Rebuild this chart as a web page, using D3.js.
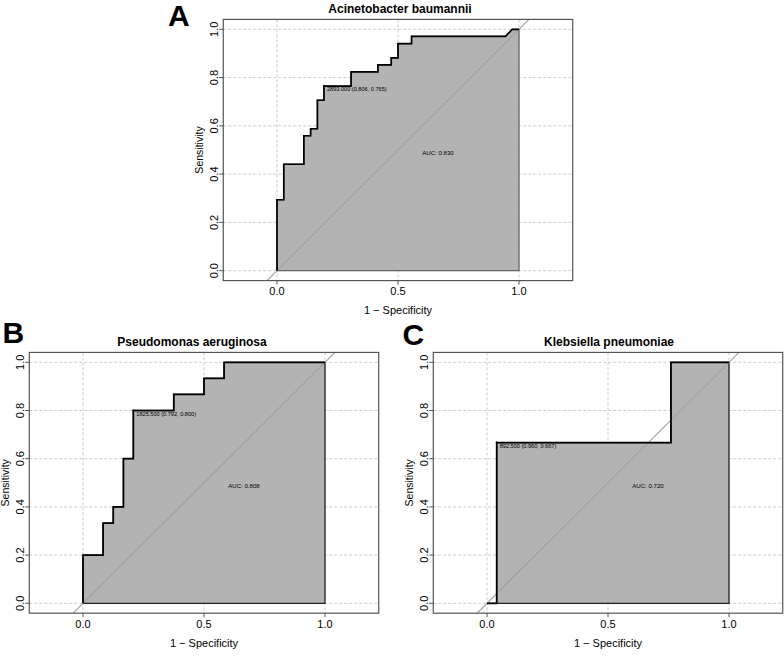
<!DOCTYPE html>
<html>
<head>
<meta charset="utf-8">
<script src="https://cdn.jsdelivr.net/npm/d3@7"></script>
<style>
  html, body { margin: 0; padding: 0; background: #fff; }
  svg { display: block; font-family: "Liberation Sans", Arial, Helvetica, sans-serif; }
</style>
</head>
<body>
<svg id="chart" width="784" height="662"></svg>
<script>
// ---- data ----
const panelLetters = ["A", "B", "C"];
const panelTitles = ["Acinetobacter baumannii", "Pseudomonas aeruginosa", "Klebsiella pneumoniae"];

// ROC vertices: 1 - specificity and sensitivity
const fprA = [0, 0, 0.028, 0.028, 0.111, 0.111, 0.139, 0.139, 0.167, 0.167, 0.194, 0.194, 0.306, 0.306, 0.417, 0.417, 0.472, 0.472, 0.5, 0.5, 0.556, 0.556, 0.944, 0.972, 1];
const tprA = [0, 0.294, 0.294, 0.441, 0.441, 0.559, 0.559, 0.588, 0.588, 0.706, 0.706, 0.765, 0.765, 0.824, 0.824, 0.853, 0.853, 0.882, 0.882, 0.941, 0.941, 0.971, 0.971, 1, 1];

const fprB = [0, 0, 0.083, 0.083, 0.125, 0.125, 0.167, 0.167, 0.208, 0.208, 0.375, 0.375, 0.5, 0.5, 0.583, 0.583, 1];
const tprB = [0, 0.2, 0.2, 0.333, 0.333, 0.4, 0.4, 0.6, 0.6, 0.8, 0.8, 0.867, 0.867, 0.933, 0.933, 1, 1];

const fprC = [0, 0.04, 0.04, 0.76, 0.76, 1];
const tprC = [0, 0, 0.667, 0.667, 1, 1];

// best thresholds: value, specificity, sensitivity
const thresholds = [2893.000, 1825.500, 892.500];
const threshSpec = [0.806, 0.792, 0.960];
const threshSens = [0.765, 0.800, 0.667];
const aucValues = [0.830, 0.808, 0.720];

const xTicks = [0, 0.5, 1];
const yTicks = [0, 0.2, 0.4, 0.6, 0.8, 1];

// ---- layout (pixels) ----
const layouts = [
  { x0: 277, xUnit: 242, y0: 270.7, y1: 29.3, letterX: 168, letterY: 26, titleX: 400 },
  { x0: 83,  xUnit: 242, y0: 603.3, y1: 362.3, letterX: 2.5,  letterY: 343, titleX: 192 },
  { x0: 487, xUnit: 242, y0: 603.3, y1: 362.3, letterX: 402.5, letterY: 345, titleX: 609 }
];
const fprs = [fprA, fprB, fprC];
const tprs = [tprA, tprB, tprC];
const borderCols = ["#666", "#222", "#222"];

const svg = d3.select("#chart");

layouts.forEach((L, i) => {
  const x = d3.scaleLinear().domain([0, 1]).range([L.x0, L.x0 + L.xUnit]);
  const y = d3.scaleLinear().domain([0, 1]).range([L.y0, L.y1]);
  const xMin = -0.222, xMax = 1.222, yMin = -0.041, yMax = 1.041;
  const bx0 = x(xMin), bx1 = x(xMax), by0 = y(yMax), by1 = y(yMin);

  const g = svg.append("g");
  const clipId = "clip" + i;
  g.append("clipPath").attr("id", clipId)
    .append("rect").attr("x", bx0).attr("y", by0).attr("width", bx1 - bx0).attr("height", by1 - by0);

  const plot = g.append("g").attr("clip-path", `url(#${clipId})`);

  // grid
  plot.selectAll(".gx").data(xTicks).enter().append("line")
    .attr("x1", d => x(d)).attr("x2", d => x(d)).attr("y1", by0).attr("y2", by1)
    .attr("stroke", "#cccccc").attr("stroke-width", 1).attr("stroke-dasharray", "3,2");
  plot.selectAll(".gy").data(yTicks).enter().append("line")
    .attr("y1", d => y(d)).attr("y2", d => y(d)).attr("x1", bx0).attr("x2", bx1)
    .attr("stroke", "#cccccc").attr("stroke-width", 1).attr("stroke-dasharray", "3,2");

  const pts = fprs[i].map((f, k) => [f, tprs[i][k]]);
  const poly = pts.concat([[1, 0]]);
  plot.append("path")
    .attr("d", d3.line().x(d => x(d[0])).y(d => y(d[1]))(poly) + "Z")
    .attr("fill", "#b3b3b3").attr("stroke", borderCols[i]).attr("stroke-width", 1.3);

  // identity line
  plot.append("line")
    .attr("x1", x(xMin)).attr("y1", y(xMin)).attr("x2", x(xMax)).attr("y2", y(xMax))
    .attr("stroke", "#a0a0a0").attr("stroke-width", 1.1);

  // ROC curve
  plot.append("path")
    .attr("d", d3.line().x(d => x(d[0])).y(d => y(d[1]))(pts))
    .attr("fill", "none").attr("stroke", "#000").attr("stroke-width", 1.7)
    .attr("stroke-linejoin", "miter");

  // box
  g.append("rect").attr("x", bx0).attr("y", by0).attr("width", bx1 - bx0).attr("height", by1 - by0)
    .attr("fill", "none").attr("stroke", "#555").attr("stroke-width", 1.2);

  // ticks
  g.selectAll(".tx").data(xTicks).enter().append("line")
    .attr("x1", d => x(d)).attr("x2", d => x(d)).attr("y1", by1).attr("y2", by1 + 4)
    .attr("stroke", "#555").attr("stroke-width", 1);
  g.selectAll(".ty").data(yTicks).enter().append("line")
    .attr("y1", d => y(d)).attr("y2", d => y(d)).attr("x1", bx0).attr("x2", bx0 - 4)
    .attr("stroke", "#555").attr("stroke-width", 1);

  g.selectAll(".txl").data(xTicks).enter().append("text")
    .attr("x", d => x(d)).attr("y", by1 + 11).attr("dy", "0.35em")
    .attr("text-anchor", "middle").attr("font-size", 11).attr("fill", "#000")
    .text(d => d3.format(".1f")(d));
  g.selectAll(".tyl").data(yTicks).enter().append("text")
    .attr("transform", d => `translate(${bx0 - 9},${y(d)}) rotate(-90)`)
    .attr("dy", "0.35em")
    .attr("text-anchor", "middle").attr("font-size", 11).attr("fill", "#000")
    .text(d => d3.format(".1f")(d));

  // axis titles
  g.append("text").attr("x", (bx0 + bx1) / 2).attr("y", by1 + 30).attr("dy", "0.35em")
    .attr("text-anchor", "middle").attr("font-size", 11).text("1 \u2212 Specificity");
  g.append("text")
    .attr("transform", `translate(${bx0 - 24},${(by0 + by1) / 2}) rotate(-90)`)
    .attr("dy", "0.35em").attr("text-anchor", "middle").attr("font-size", 10.5).text("Sensitivity");

  // title
  g.append("text").attr("x", L.titleX).attr("y", by0 - 6)
    .attr("text-anchor", "middle").attr("font-size", 12).attr("font-weight", "bold").text(panelTitles[i]);

  // panel letter
  g.append("text").attr("x", L.letterX).attr("y", L.letterY)
    .attr("font-size", 30).attr("font-weight", "bold").text(panelLetters[i]);

  // threshold point & label
  const tx = x(1 - threshSpec[i]), ty = y(threshSens[i]);
  g.append("circle").attr("cx", tx).attr("cy", ty).attr("r", 1).attr("fill", "#000");
  g.append("text").attr("x", tx + 3).attr("y", ty + 3.5).attr("dy", "0.35em")
    .attr("font-size", 5.6).attr("fill", "#000")
    .text(`${d3.format(".3f")(thresholds[i])} (${d3.format(".3f")(threshSpec[i])}, ${d3.format(".3f")(threshSens[i])})`);

  // AUC label
  g.append("text").attr("x", x(0.6)).attr("y", y(0.487)).attr("dy", "0.35em")
    .attr("font-size", 6.1).attr("fill", "#000")
    .text(`AUC: ${d3.format(".3f")(aucValues[i])}`);
});
</script>
</body>
</html>
